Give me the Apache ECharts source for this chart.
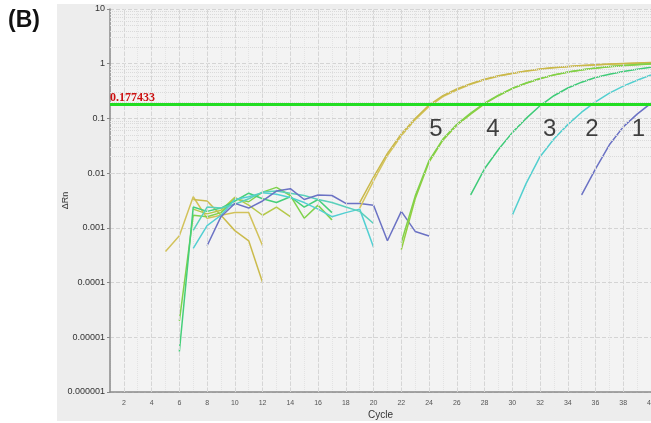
<!DOCTYPE html>
<html>
<head>
<meta charset="utf-8">
<script src="https://cdn.jsdelivr.net/npm/echarts@6/dist/echarts.min.js"></script>
<style>
  html, body { margin: 0; padding: 0; background: #fff; }
  #chart { width: 651px; height: 423px; }
</style>
</head>
<body>
<div id="chart"></div>
<script>
// y tick labels (log axis, one per decade)
const yTickLabels = ['0.000001', '0.00001', '0.0001', '0.001', '0.01', '0.1', '1', '10'];
const threshold = 0.177433;

// amplification curves (value per cycle, starting at the given cycle)
const amp5aStart = 19;
const amp5a = [0.0023, 0.0072, 0.021, 0.048, 0.095, 0.165, 0.25, 0.33, 0.42, 0.51, 0.59, 0.66, 0.73, 0.79, 0.84, 0.88, 0.92, 0.95, 0.98, 1.0, 1.02, 1.04];
const amp5bStart = 19;
const amp5b = [0.0029, 0.0085, 0.023, 0.052, 0.1, 0.175, 0.26, 0.345, 0.43, 0.52, 0.6, 0.67, 0.74, 0.8, 0.85, 0.89, 0.93, 0.96, 0.99, 1.01, 1.03, 1.05];
const amp4aStart = 22;
const amp4a = [0.0004, 0.0034, 0.016, 0.04, 0.075, 0.12, 0.185, 0.26, 0.35, 0.44, 0.53, 0.62, 0.7, 0.77, 0.83, 0.88, 0.92, 0.96, 0.99];
const amp4bStart = 22;
const amp4b = [0.00054, 0.0038, 0.017, 0.042, 0.078, 0.125, 0.19, 0.265, 0.355, 0.445, 0.535, 0.625, 0.705, 0.775, 0.835, 0.885, 0.925, 0.965, 1.0];
const amp3Start = 27;
const amp3 = [0.004, 0.012, 0.027, 0.055, 0.1, 0.17, 0.26, 0.36, 0.46, 0.56, 0.64, 0.72, 0.79, 0.86];
const amp2Start = 30;
const amp2 = [0.0017, 0.0065, 0.02, 0.042, 0.077, 0.13, 0.2, 0.29, 0.39, 0.5, 0.62];
const amp1Start = 35;
const amp1 = [0.004, 0.012, 0.033, 0.07, 0.12, 0.19];

// baseline noise before amplification
const base1Start = 8;
const base1 = [0.00047, 0.0016, 0.0028, 0.0023, 0.0031, 0.0047, 0.0052, 0.0033, 0.004, 0.0039, 0.0028, 0.0028, 0.0026, 0.00058, 0.002, 0.00086, 0.00071];
const base2aStart = 7;
const base2a = [0.00042, 0.0011, 0.0017, 0.0033, 0.0037, 0.0044, 0.0041, 0.0036, 0.0029, 0.0022, 0.0016, 0.0019, 0.0022, 0.00044];
const base2bStart = 7;
const base2b = [0.0009, 0.0024, 0.0023, 0.0027, 0.0034, 0.0045, 0.0047, 0.0043, 0.0039, 0.0033, 0.0029, 0.0024, 0.002, 0.0012];
const base3Start = 6;
const base3 = [0.0000055, 0.0024, 0.002, 0.0023, 0.0031, 0.0043, 0.0034, 0.0029, 0.0037, 0.0024, 0.0033, 0.0019];
const base4aStart = 6;
const base4a = [0.00002, 0.0017, 0.0016, 0.0019, 0.0034, 0.003, 0.0045, 0.0055, 0.0039, 0.0015, 0.0026, 0.0014];
const base4bStart = 7;
const base4b = [0.0022, 0.0018, 0.0021, 0.0036, 0.0026, 0.0017, 0.0024, 0.0016];
const base5aStart = 5;
const base5a = [0.00037, 0.00072, 0.0037, 0.0015, 0.0017, 0.0019, 0.0019, 0.00047];
const base5bStart = 7;
const base5b = [0.0033, 0.0031, 0.0017, 0.00089, 0.00058, 0.0001];

// curve number tags
const tagNames = ['5', '4', '3', '2', '1'];
const tagCycles = [24.5, 28.6, 32.7, 35.75, 39.1];
const tagLevel = 0.063;

function pairs(start, vals) {
  return vals.map((v, i) => [start + i, v]);
}

function curve(name, start, vals, color) {
  return {
    name: name,
    type: 'line',
    data: pairs(start, vals),
    showSymbol: false,
    symbol: 'none',
    silent: true,
    lineStyle: { color: color, width: 1.5 },
    z: 3
  };
}

// minor log grid lines (2..9 in each decade) and even cycle lines
const minorY = [];
for (let e = -6; e < 1; e++) {
  for (let d = 2; d <= 9; d++) minorY.push({ yAxis: d * Math.pow(10, e) });
}
const evenX = [];
for (let c = 2; c <= 40; c += 2) evenX.push({ xAxis: c });

const chart = echarts.init(document.getElementById('chart'));
chart.setOption({
  animation: false,
  textStyle: { fontFamily: 'Liberation Sans, Arial, sans-serif' },
  graphic: [
    { type: 'rect', left: 57, top: 4, shape: { width: 594, height: 417 }, style: { fill: '#ededed' }, z: -10 },
    { type: 'text', left: 8, top: 9, style: { text: '(B)', font: 'bold 23px Liberation Sans, Arial', fill: '#111' } }
  ],
  grid: {
    left: 110, right: 0, top: 9, bottom: 31,
    outerBoundsMode: 'none', containLabel: false,
    show: true, backgroundColor: '#f3f3f3', borderWidth: 0
  },
  xAxis: {
    type: 'value',
    min: 1, max: 40, interval: 1,
    name: 'Cycle', nameLocation: 'middle', nameGap: 18, nameMoveOverlap: false,
    nameTextStyle: { fontSize: 10, color: '#333' },
    axisLine: { lineStyle: { color: '#8a8a8a', width: 1.5 } },
    axisTick: { show: false },
    axisLabel: {
      fontSize: 7, color: '#555', margin: 8,
      formatter: v => (v % 2 === 0 ? String(v) : '')
    },
    splitLine: { show: true, lineStyle: { color: '#e3e3e3', type: 'dotted', width: 1 } }
  },
  yAxis: {
    type: 'log', logBase: 10,
    min: 0.000001, max: 10, interval: 1,
    name: 'ΔRn', nameLocation: 'middle', nameGap: 40, nameRotate: 90, nameMoveOverlap: false,
    nameTextStyle: { fontSize: 9, color: '#333' },
    axisLine: { show: true, lineStyle: { color: '#8a8a8a', width: 1.5 } },
    axisTick: { show: true, length: 3, lineStyle: { color: '#8a8a8a' } },
    axisLabel: {
      fontSize: 9, color: '#333', margin: 5,
      formatter: v => yTickLabels[Math.round(Math.log10(v)) + 6]
    },
    splitLine: { show: true, lineStyle: { color: '#d4d4d4', type: 'dashed', width: 1 } }
  },
  series: [
    {
      name: 'grid', type: 'line', data: [], silent: true, z: 1,
      markLine: {
        silent: true, symbol: 'none', animation: false,
        label: { show: false },
        lineStyle: { color: '#dadada', type: 'dotted', width: 1 },
        data: minorY
      }
    },
    {
      name: 'gridx', type: 'line', data: [], silent: true, z: 1,
      markLine: {
        silent: true, symbol: 'none', animation: false,
        label: { show: false },
        lineStyle: { color: '#d6d6d6', type: 'dashed', width: 1 },
        data: evenX
      }
    },
    curve('b5a', base5aStart, base5a, '#d2c25a'),
    curve('b5b', base5bStart, base5b, '#cbbb4c'),
    curve('b4a', base4aStart, base4a, '#7fd24c'),
    curve('b4b', base4bStart, base4b, '#b5c94a'),
    curve('b3', base3Start, base3, '#45cf7a'),
    curve('b2a', base2aStart, base2a, '#52cfd2'),
    curve('b2b', base2bStart, base2b, '#5ad0bc'),
    curve('b1', base1Start, base1, '#6b72c4'),
    curve('a5a', amp5aStart, amp5a, '#d5c45c'),
    curve('a5b', amp5bStart, amp5b, '#c9b84a'),
    curve('a4a', amp4aStart, amp4a, '#93cf3e'),
    curve('a4b', amp4bStart, amp4b, '#80d14a'),
    curve('a3', amp3Start, amp3, '#3fcb78'),
    curve('a2', amp2Start, amp2, '#52cfcf'),
    curve('a1', amp1Start, amp1, '#6b72c4'),
    {
      name: 'threshold', type: 'line', data: [], z: 5,
      markLine: {
        silent: true, symbol: 'none', animation: false,
        lineStyle: { color: '#22dd22', type: 'solid', width: 3 },
        label: {
          show: true, position: 'insideStartTop', distance: [0, 1],
          formatter: String(threshold),
          fontFamily: 'Liberation Serif, Times New Roman, serif',
          fontWeight: 'bold', fontSize: 12, color: '#cc1111'
        },
        data: [{ yAxis: threshold }]
      }
    },
    {
      name: 'tags', type: 'scatter', symbolSize: 0, silent: true, z: 6,
      data: tagCycles.map((c, i) => ({ value: [c, tagLevel], name: tagNames[i] })),
      label: {
        show: true, position: 'inside', formatter: p => p.name,
        fontSize: 24, color: '#111', fontFamily: 'Liberation Sans, Arial, sans-serif'
      }
    }
  ]
});
</script>
</body>
</html>
